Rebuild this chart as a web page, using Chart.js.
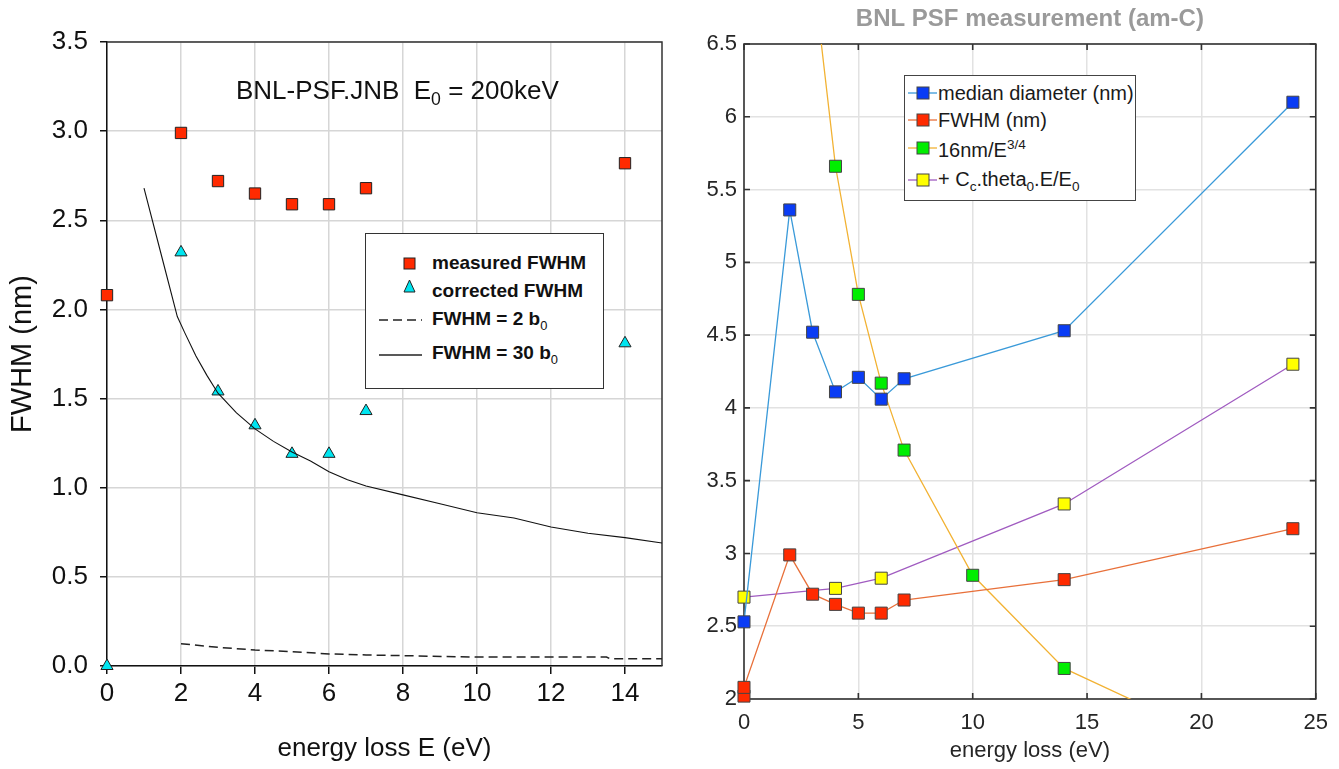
<!DOCTYPE html>
<html><head><meta charset="utf-8">
<script src="https://cdn.jsdelivr.net/npm/chart.js@4.4.1/dist/chart.umd.min.js"></script>
<style>
html,body{margin:0;padding:0;background:#fff;width:1339px;height:769px;overflow:hidden;}
#left{position:absolute;left:0;top:0;width:672px;height:769px;}
#right{position:absolute;left:680px;top:0;width:659px;height:769px;}
.ov{position:absolute;pointer-events:none;}
.narrow{font-family:'Liberation Sans Narrow','Arial Narrow','Liberation Sans',Arial,sans-serif;}
.row{position:absolute;height:24px;line-height:24px;white-space:nowrap;}
.samp{position:absolute;}
sub.s{font-size:68%;vertical-align:-0.35em;line-height:0;}
sup.s{font-size:68%;vertical-align:0.62em;line-height:0;}
</style></head>
<body>
<div id="left"><canvas id="cl"></canvas></div>
<div id="right"><canvas id="cr"></canvas></div>

<div class="ov narrow" style="left:236px;top:74px;font-size:26px;line-height:32px;color:#111;white-space:nowrap;">BNL-PSF.JNB&nbsp;&nbsp;E<sub class="s">0</sub> = 200keV</div>

<div class="ov narrow" id="legL" style="left:365px;top:233px;width:237px;height:154px;border:1.5px solid #333;background:#fff;font-size:19px;font-weight:bold;color:#111;">
  <svg class="samp" style="left:10px;top:15px" width="50" height="120">
    <rect x="28" y="9" width="11" height="11" fill="#ff2a00" stroke="#222" stroke-width="1"/>
    <polygon points="33.5,31 28,43 39,43" fill="#00e5f0" stroke="#222" stroke-width="1"/>
    <line x1="3" y1="71" x2="46" y2="71" stroke="#222" stroke-width="1.5" stroke-dasharray="9,5"/>
    <line x1="3" y1="106" x2="46" y2="106" stroke="#222" stroke-width="1.3"/>
  </svg>
  <div class="row" style="left:66px;top:17px;">measured FWHM</div>
  <div class="row" style="left:66px;top:45px;">corrected FWHM</div>
  <div class="row" style="left:66px;top:73px;">FWHM = 2 b<sub class="s" style="font-weight:normal">0</sub></div>
  <div class="row" style="left:66px;top:107px;">FWHM = 30 b<sub class="s" style="font-weight:normal">0</sub></div>
</div>

<div class="ov" id="legR" style="left:904px;top:75px;width:230px;height:124px;border:1.5px solid #444;background:#fff;font-family:'Liberation Sans',Arial,sans-serif;font-size:20px;color:#1a1a1a;">
  <svg class="samp" style="left:2px;top:0px" width="34" height="124">
    <line x1="1" y1="17" x2="30" y2="17" stroke="#3a9ad9" stroke-width="1.3"/>
    <rect x="10" y="11" width="12" height="12" fill="#0a3cf5" stroke="#444" stroke-width="1"/>
    <line x1="1" y1="44" x2="30" y2="44" stroke="#e8703a" stroke-width="1.3"/>
    <rect x="10" y="38" width="12" height="12" fill="#ff2a00" stroke="#444" stroke-width="1"/>
    <line x1="1" y1="72" x2="30" y2="72" stroke="#f2b233" stroke-width="1.3"/>
    <rect x="10" y="66" width="12" height="12" fill="#00ee00" stroke="#444" stroke-width="1"/>
    <line x1="1" y1="104" x2="30" y2="104" stroke="#a05bc0" stroke-width="1.3"/>
    <rect x="10" y="98" width="12" height="12" fill="#ffff00" stroke="#444" stroke-width="1"/>
  </svg>
  <div class="row" style="left:33px;top:5px;">median diameter (nm)</div>
  <div class="row" style="left:33px;top:32px;">FWHM (nm)</div>
  <div class="row" style="left:33px;top:62px;">16nm/E<sup class="s">3/4</sup></div>
  <div class="row" style="left:33px;top:91px;">+ C<sub class="s">c</sub>.theta<sub class="s">0</sub>.E/E<sub class="s">0</sub></div>
</div>

<script>
// ---------- Left panel data ----------
const leftXTickLabels = ['0','2','4','6','8','10','12','14'];
const leftYTickLabels = ['0.0','0.5','1.0','1.5','2.0','2.5','3.0','3.5'];
const measuredE    = [0, 2, 3, 4, 5, 6, 7, 14];
const measuredFWHM = [2.08, 2.99, 2.72, 2.65, 2.59, 2.59, 2.68, 2.82];
const correctedE    = [0, 2, 3, 4, 5, 6, 7, 14];
const correctedFWHM = [0.0, 2.32, 1.54, 1.35, 1.19, 1.19, 1.43, 1.81];
const b30E    = [1, 1.5, 1.9, 2.1, 2.4, 2.7, 3, 3.5, 4, 4.5, 5, 5.5, 6, 6.5, 7, 8, 9, 10, 11, 12, 13, 14, 15];
const b30FWHM = [2.68, 2.28, 1.96, 1.87, 1.74, 1.63, 1.53, 1.42, 1.33, 1.26, 1.20, 1.15, 1.09, 1.045, 1.01, 0.96, 0.91, 0.86, 0.83, 0.78, 0.745, 0.72, 0.69];
const b2E    = [2, 3, 4, 5, 6, 7, 8, 10, 12, 13.5, 13.6, 15];
const b2FWHM = [0.125, 0.105, 0.09, 0.08, 0.068, 0.062, 0.058, 0.05, 0.05, 0.05, 0.04, 0.04];

// ---------- Right panel data ----------
const rightXTickLabels = ['0','5','10','15','20','25'];
const rightYTickLabels = ['2','2.5','3','3.5','4','4.5','5','5.5','6','6.5'];
const medianE = [0, 2, 3, 4, 5, 6, 7, 14, 24];
const medianD = [2.53, 5.36, 4.52, 4.11, 4.21, 4.06, 4.20, 4.53, 6.10];
const fwhmE = [0, 0, 2, 3, 4, 5, 6, 7, 14, 24];
const fwhmV = [2.02, 2.08, 2.99, 2.72, 2.65, 2.59, 2.59, 2.68, 2.82, 3.17];
const powE = [2, 3, 4, 5, 6, 7, 10, 14, 24];
const powV = [9.5, 7.02, 5.66, 4.78, 4.17, 3.71, 2.85, 2.21, 1.48];
const ccE = [0, 4, 6, 14, 24];
const ccV = [2.70, 2.76, 2.83, 3.34, 4.30];

const pts = (xs, ys) => xs.map((x, i) => ({x: x, y: ys[i]}));
const NARROW = "'Liberation Sans Narrow','Arial Narrow','Liberation Sans',Arial,sans-serif";
const SANS = "'Liberation Sans',Arial,Helvetica,sans-serif";

const frameLeft = {
  id: 'frameLeft',
  beforeDatasetsDraw(chart) {
    const {ctx, chartArea: a} = chart;
    ctx.save();
    ctx.strokeStyle = '#333'; ctx.lineWidth = 1.5;
    ctx.beginPath();
    ctx.moveTo(a.left, a.top); ctx.lineTo(a.right, a.top); ctx.lineTo(a.right, a.bottom);
    ctx.stroke();
    ctx.restore();
  }
};
const frameRight = {
  id: 'frameRight',
  beforeDatasetsDraw(chart) {
    const {ctx, chartArea: a, scales: {x, y}} = chart;
    ctx.save();
    ctx.strokeStyle = '#333'; ctx.lineWidth = 1.6;
    ctx.strokeRect(a.left, a.top, a.right - a.left, a.bottom - a.top);
    ctx.beginPath();
    x.ticks.forEach(t => {
      const p = x.getPixelForValue(t.value);
      ctx.moveTo(p, a.bottom); ctx.lineTo(p, a.bottom - 6);
      ctx.moveTo(p, a.top); ctx.lineTo(p, a.top + 6);
    });
    y.ticks.forEach(t => {
      const p = y.getPixelForValue(t.value);
      ctx.moveTo(a.left, p); ctx.lineTo(a.left + 6, p);
      ctx.moveTo(a.right, p); ctx.lineTo(a.right - 6, p);
    });
    ctx.stroke();
    ctx.restore();
  }
};

new Chart(document.getElementById('cl'), {
  type: 'scatter',
  data: {
    datasets: [
      {label: 'FWHM = 30 b0', data: pts(b30E, b30FWHM), showLine: true, borderColor: '#111', borderWidth: 1.1, pointRadius: 0, tension: 0},
      {label: 'FWHM = 2 b0', data: pts(b2E, b2FWHM), showLine: true, borderColor: '#222', borderWidth: 1.5, borderDash: [9, 5], pointRadius: 0, tension: 0},
      {label: 'corrected FWHM', data: pts(correctedE, correctedFWHM), pointStyle: 'triangle', pointRadius: 7, backgroundColor: '#00e5f0', borderColor: '#222', borderWidth: 1, clip: false},
      {label: 'measured FWHM', data: pts(measuredE, measuredFWHM), pointStyle: 'rect', pointRadius: 8, backgroundColor: '#ff2a00', borderColor: '#222', borderWidth: 1, clip: false}
    ]
  },
  options: {
    responsive: true, maintainAspectRatio: false, animation: false,
    layout: {padding: {left: 0, right: 10, top: 42, bottom: 0}},
    plugins: {legend: {display: false}, tooltip: {enabled: false}, title: {display: false}},
    scales: {
      x: {
        type: 'linear', min: 0, max: 15,
        afterFit: s => { s.height = 103; },
        ticks: {stepSize: 2, includeBounds: false, color: '#111', padding: 4,
          font: {family: NARROW, size: 26},
          callback: v => leftXTickLabels[Math.round(v / 2)] },
        grid: {color: '#d6d6d6', lineWidth: 1.5, tickColor: '#111', tickLength: 8},
        border: {display: true, color: '#111', width: 1.5},
        title: {display: true, text: 'energy loss E (eV)', color: '#111', padding: 5, font: {family: NARROW, size: 26}}
      },
      y: {
        min: 0, max: 3.5,
        afterFit: s => { s.width = 107; },
        ticks: {stepSize: 0.5, color: '#111', padding: 12,
          font: {family: NARROW, size: 26},
          callback: v => leftYTickLabels[Math.round(v / 0.5)] },
        grid: {color: '#d6d6d6', lineWidth: 1.5, tickColor: '#111', tickLength: 7},
        border: {display: true, color: '#111', width: 1.5},
        title: {display: true, text: 'FWHM (nm)', color: '#111', padding: 6, font: {family: NARROW, size: 29}}
      }
    }
  },
  plugins: [frameLeft]
});

new Chart(document.getElementById('cr'), {
  type: 'scatter',
  data: {
    datasets: [
      {label: 'median diameter (nm)', data: pts(medianE, medianD), showLine: true, borderColor: '#3a9ad9', borderWidth: 1.3,
        pointStyle: 'rect', pointRadius: 8.5, pointBackgroundColor: '#0a3cf5', pointBorderColor: '#444', pointBorderWidth: 1, clip: false},
      {label: 'FWHM (nm)', data: pts(fwhmE, fwhmV), showLine: true, borderColor: '#e8703a', borderWidth: 1.3,
        pointStyle: 'rect', pointRadius: 8.5, pointBackgroundColor: '#ff2a00', pointBorderColor: '#444', pointBorderWidth: 1, clip: false},
      {label: '16nm/E^3/4', data: pts(powE, powV), showLine: true, borderColor: '#f2b233', borderWidth: 1.3,
        pointStyle: 'rect', pointRadius: 8.5, pointBackgroundColor: '#00ee00', pointBorderColor: '#444', pointBorderWidth: 1},
      {label: '+ Cc.theta0.E/E0', data: pts(ccE, ccV), showLine: true, borderColor: '#a05bc0', borderWidth: 1.3,
        pointStyle: 'rect', pointRadius: 8.5, pointBackgroundColor: '#ffff00', pointBorderColor: '#444', pointBorderWidth: 1, clip: false}
    ]
  },
  options: {
    responsive: true, maintainAspectRatio: false, animation: false,
    layout: {padding: {left: 0, right: 19, top: 0, bottom: 0}},
    plugins: {
      legend: {display: false}, tooltip: {enabled: false},
      title: {display: true, fullSize: false, text: 'BNL PSF measurement (am-C)', color: '#9a9a9a',
        font: {family: SANS, size: 24, weight: 'bold'}, padding: {top: 5, bottom: 10.2}}
    },
    scales: {
      x: {
        type: 'linear', min: 0, max: 25,
        afterFit: s => { s.height = 70; },
        ticks: {stepSize: 5, color: '#262626', padding: 11,
          font: {family: SANS, size: 22},
          callback: v => rightXTickLabels[Math.round(v / 5)] },
        grid: {color: '#e2e2e2', lineWidth: 1.5, drawTicks: false},
        border: {display: false},
        title: {display: true, text: 'energy loss (eV)', color: '#262626', padding: 5, font: {family: SANS, size: 22}}
      },
      y: {
        min: 2, max: 6.5,
        afterFit: s => { s.width = 64; },
        ticks: {stepSize: 0.5, color: '#262626', padding: 7,
          font: {family: SANS, size: 22},
          callback: v => rightYTickLabels[Math.round((v - 2) / 0.5)] },
        grid: {color: '#e2e2e2', lineWidth: 1.5, drawTicks: false},
        border: {display: false}
      }
    }
  },
  plugins: [frameRight]
});
</script>
</body></html>
